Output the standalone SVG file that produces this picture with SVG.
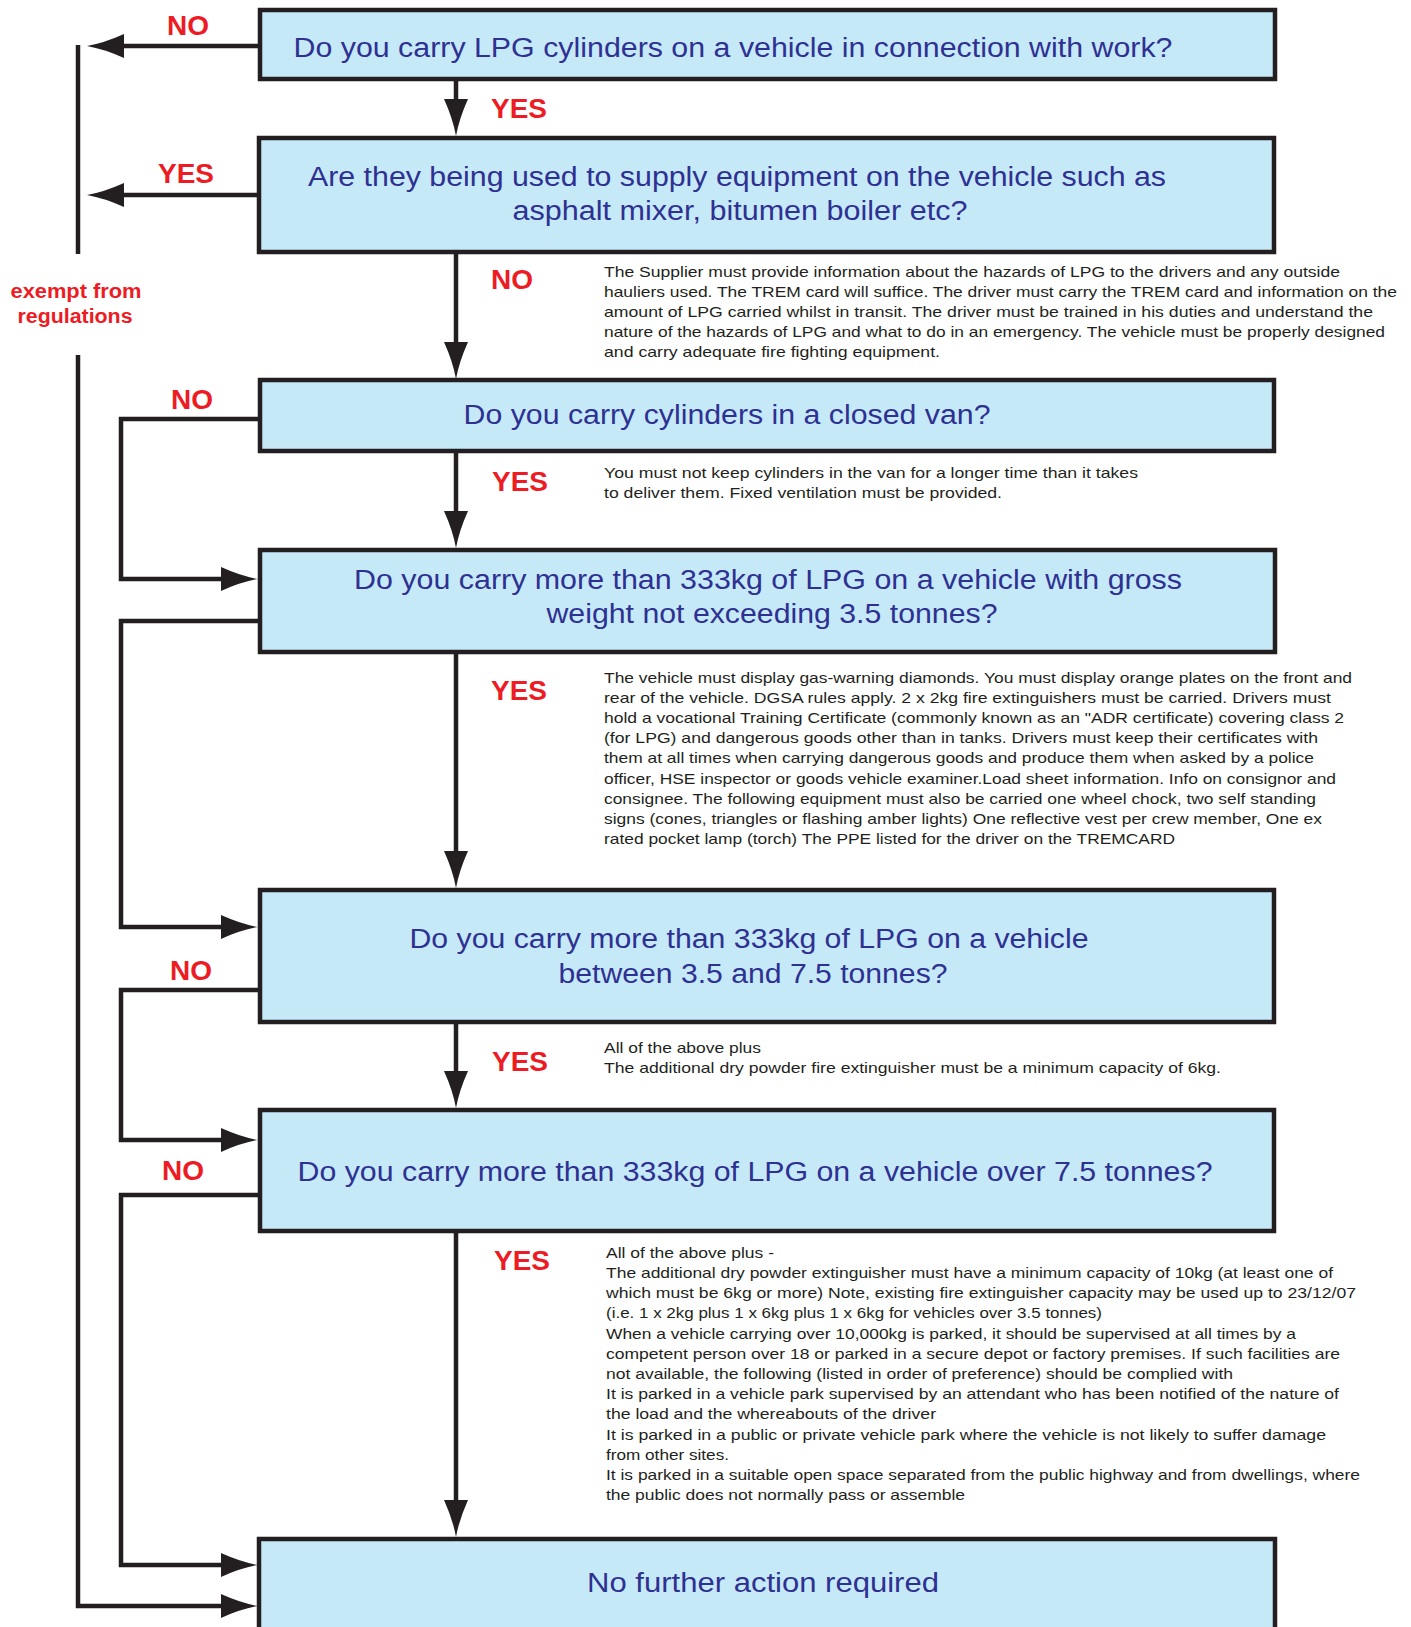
<svg xmlns="http://www.w3.org/2000/svg" width="1411" height="1627" viewBox="0 0 1411 1627">
<defs>
<style>
.box{fill:#C6E9F8;stroke:#231F20;stroke-width:4.5}
.q{font-family:"Liberation Sans",Arial,sans-serif;font-size:27px;fill:#2E3192;text-anchor:middle}
.lbl{font-family:"Liberation Sans",Arial,sans-serif;font-size:28px;font-weight:bold;fill:#ED1C24}
.ex{font-family:"Liberation Sans",Arial,sans-serif;font-size:20px;font-weight:bold;fill:#ED1C24;text-anchor:middle}
.note{font-family:"Liberation Sans",Arial,sans-serif;font-size:14.5px;fill:#231F20}
.ln{fill:none;stroke:#231F20;stroke-width:4.5}
.arr{marker-end:url(#ah)}
</style>
<marker id="ah" markerUnits="userSpaceOnUse" viewBox="0 0 37 24" markerWidth="37" markerHeight="24" refX="0" refY="12" orient="auto">
<path d="M0,0 Q20,9 37,12 Q20,15 0,24 Z" fill="#231F20"/>
</marker>
</defs>
<rect width="1411" height="1627" fill="#FFFFFF"/>

<g id="connectors">
<path class="ln arr" d="M259,46 H124"/>
<path class="ln arr" d="M258,195 H124"/>
<path class="ln" d="M78,45 V254"/>
<path class="ln arr" d="M78,355 V1606 H221"/>
<path class="ln arr" d="M456,80 V99"/>
<path class="ln arr" d="M456,254 V342"/>
<path class="ln arr" d="M456,453 V511"/>
<path class="ln arr" d="M456,654 V851"/>
<path class="ln arr" d="M456,1024 V1071"/>
<path class="ln arr" d="M456,1233 V1500"/>
<path class="ln arr" d="M259,419 H121 V579 H221"/>
<path class="ln arr" d="M259,621 H121 V927 H221"/>
<path class="ln arr" d="M259,990 H121 V1140 H221"/>
<path class="ln arr" d="M259,1195 H121 V1565 H221"/>
</g>

<g id="labels">
<text class="lbl" x="167" y="35">NO</text>
<text class="lbl" x="491" y="118">YES</text>
<text class="lbl" x="158" y="183">YES</text>
<text class="lbl" x="491" y="289">NO</text>
<text class="lbl" x="171" y="409">NO</text>
<text class="lbl" x="492" y="491">YES</text>
<text class="lbl" x="491" y="700">YES</text>
<text class="lbl" x="170" y="980">NO</text>
<text class="lbl" x="492" y="1071">YES</text>
<text class="lbl" x="162" y="1180">NO</text>
<text class="lbl" x="494" y="1270">YES</text>
<text class="ex" x="76" y="298" textLength="131" lengthAdjust="spacingAndGlyphs">exempt from</text>
<text class="ex" x="75" y="323" textLength="115" lengthAdjust="spacingAndGlyphs">regulations</text>
</g>

<g id="node1">
<rect class="box" x="260" y="10" width="1015" height="69"/>
<text class="q" x="733" y="57" textLength="879" lengthAdjust="spacingAndGlyphs">Do you carry LPG cylinders on a vehicle in connection with work?</text>
</g>

<g id="node2">
<rect class="box" x="259" y="138" width="1015" height="114"/>
<text class="q" x="737" y="186" textLength="858" lengthAdjust="spacingAndGlyphs">Are they being used to supply equipment on the vehicle such as</text>
<text class="q" x="740" y="220" textLength="455" lengthAdjust="spacingAndGlyphs">asphalt mixer, bitumen boiler etc?</text>
</g>

<g id="note1">
<text class="note" x="604" y="277" textLength="736" lengthAdjust="spacingAndGlyphs">The Supplier must provide information about the hazards of LPG to the drivers and any outside</text>
<text class="note" x="604" y="297" textLength="793" lengthAdjust="spacingAndGlyphs">hauliers used. The TREM card will suffice. The driver must carry the TREM card and information on the</text>
<text class="note" x="604" y="317" textLength="769" lengthAdjust="spacingAndGlyphs">amount of LPG carried whilst in transit. The driver must be trained in his duties and understand the</text>
<text class="note" x="604" y="337" textLength="781" lengthAdjust="spacingAndGlyphs">nature of the hazards of LPG and what to do in an emergency. The vehicle must be properly designed</text>
<text class="note" x="604" y="357" textLength="336" lengthAdjust="spacingAndGlyphs">and carry adequate fire fighting equipment.</text>
</g>

<g id="node3">
<rect class="box" x="260" y="380" width="1014" height="71"/>
<text class="q" x="727" y="424" textLength="527" lengthAdjust="spacingAndGlyphs">Do you carry cylinders in a closed van?</text>
</g>

<g id="note2">
<text class="note" x="604" y="478" textLength="534" lengthAdjust="spacingAndGlyphs">You must not keep cylinders in the van for a longer time than it takes</text>
<text class="note" x="604" y="498" textLength="398" lengthAdjust="spacingAndGlyphs">to deliver them. Fixed ventilation must be provided.</text>
</g>

<g id="node4">
<rect class="box" x="260" y="550" width="1015" height="102"/>
<text class="q" x="768" y="589" textLength="828" lengthAdjust="spacingAndGlyphs">Do you carry more than 333kg of LPG on a vehicle with gross</text>
<text class="q" x="772" y="623" textLength="451" lengthAdjust="spacingAndGlyphs">weight not exceeding 3.5 tonnes?</text>
</g>

<g id="note3">
<text class="note" x="604" y="683" textLength="748" lengthAdjust="spacingAndGlyphs">The vehicle must display gas-warning diamonds. You must display orange plates on the front and</text>
<text class="note" x="604" y="703" textLength="727" lengthAdjust="spacingAndGlyphs">rear of the vehicle. DGSA rules apply. 2 x 2kg fire extinguishers must be carried.  Drivers must</text>
<text class="note" x="604" y="723" textLength="740" lengthAdjust="spacingAndGlyphs">hold a vocational Training Certificate (commonly known as an "ADR certificate) covering class 2</text>
<text class="note" x="604" y="743" textLength="714" lengthAdjust="spacingAndGlyphs">(for LPG) and dangerous goods other than in tanks. Drivers must keep their certificates with</text>
<text class="note" x="604" y="763" textLength="710" lengthAdjust="spacingAndGlyphs">them at all times when carrying dangerous goods and produce them when asked by a police</text>
<text class="note" x="604" y="784" textLength="732" lengthAdjust="spacingAndGlyphs">officer, HSE inspector or goods vehicle examiner.Load sheet information. Info on consignor and</text>
<text class="note" x="604" y="804" textLength="712" lengthAdjust="spacingAndGlyphs">consignee. The following equipment must also be carried one wheel chock, two self standing</text>
<text class="note" x="604" y="824" textLength="718" lengthAdjust="spacingAndGlyphs">signs (cones, triangles or flashing amber lights) One reflective vest per crew member, One ex</text>
<text class="note" x="604" y="844" textLength="571" lengthAdjust="spacingAndGlyphs">rated pocket lamp (torch) The PPE listed for the driver on the TREMCARD</text>
</g>

<g id="node5">
<rect class="box" x="260" y="890" width="1014" height="132"/>
<text class="q" x="749" y="948" textLength="679" lengthAdjust="spacingAndGlyphs">Do you carry more than 333kg of LPG on a vehicle</text>
<text class="q" x="753" y="983" textLength="389" lengthAdjust="spacingAndGlyphs">between 3.5 and 7.5 tonnes?</text>
</g>

<g id="note4">
<text class="note" x="604" y="1053" textLength="157" lengthAdjust="spacingAndGlyphs">All of the above plus</text>
<text class="note" x="604" y="1073" textLength="617" lengthAdjust="spacingAndGlyphs">The additional dry powder fire extinguisher must be a minimum capacity of 6kg.</text>
</g>

<g id="node6">
<rect class="box" x="260" y="1110" width="1014" height="121"/>
<text class="q" x="755" y="1181" textLength="915" lengthAdjust="spacingAndGlyphs">Do you carry more than 333kg of LPG on a vehicle over 7.5 tonnes?</text>
</g>

<g id="note5">
<text class="note" x="606" y="1258" textLength="168" lengthAdjust="spacingAndGlyphs">All of the above plus -</text>
<text class="note" x="606" y="1278" textLength="727" lengthAdjust="spacingAndGlyphs">The additional dry powder extinguisher must have a minimum capacity of 10kg (at least one of</text>
<text class="note" x="606" y="1298" textLength="750" lengthAdjust="spacingAndGlyphs">which must be 6kg or more) Note, existing fire extinguisher capacity may be used up to 23/12/07</text>
<text class="note" x="606" y="1318" textLength="496" lengthAdjust="spacingAndGlyphs">(i.e. 1 x 2kg plus 1 x 6kg plus 1 x 6kg for vehicles over 3.5 tonnes)</text>
<text class="note" x="606" y="1339" textLength="690" lengthAdjust="spacingAndGlyphs">When a vehicle carrying over 10,000kg is parked, it should be supervised at all times by a</text>
<text class="note" x="606" y="1359" textLength="734" lengthAdjust="spacingAndGlyphs">competent person over 18 or parked in a secure depot or factory premises. If such facilities are</text>
<text class="note" x="606" y="1379" textLength="627" lengthAdjust="spacingAndGlyphs">not available, the following (listed in order of preference) should be complied with</text>
<text class="note" x="606" y="1399" textLength="733" lengthAdjust="spacingAndGlyphs">It is parked in a vehicle park supervised by an attendant who has been notified of the nature of</text>
<text class="note" x="606" y="1419" textLength="330" lengthAdjust="spacingAndGlyphs">the load and the whereabouts of the driver</text>
<text class="note" x="606" y="1440" textLength="720" lengthAdjust="spacingAndGlyphs">It is parked in a public or private vehicle park where the vehicle is not likely to suffer damage</text>
<text class="note" x="606" y="1460" textLength="123" lengthAdjust="spacingAndGlyphs">from other sites.</text>
<text class="note" x="606" y="1480" textLength="754" lengthAdjust="spacingAndGlyphs">It is parked in a suitable open space separated from the public highway and from dwellings, where</text>
<text class="note" x="606" y="1500" textLength="359" lengthAdjust="spacingAndGlyphs">the public does not normally pass or assemble</text>
</g>

<g id="node7">
<rect class="box" x="259" y="1539" width="1016" height="120"/>
<text class="q" x="763" y="1592" textLength="352" lengthAdjust="spacingAndGlyphs">No further action required</text>
</g>
</svg>
